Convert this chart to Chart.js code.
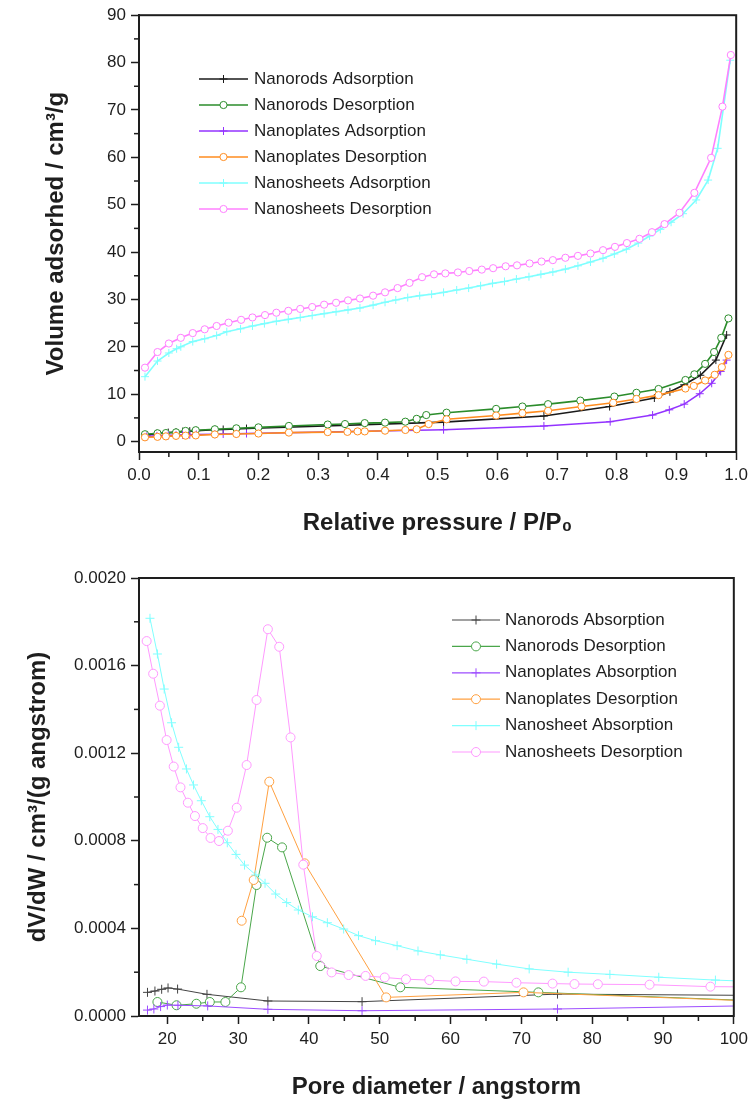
<!DOCTYPE html>
<html>
<head>
<meta charset="utf-8">
<title>Isotherms and pore size</title>
<script src="https://cdn.jsdelivr.net/npm/chart.js@4.4.0/dist/chart.umd.min.js"></script>
<style>
  body { margin: 0; background: #fff; }
  #wrap { position: relative; width: 753px; height: 1106px; }
  canvas { position: absolute; left: 0; }
</style>
</head>
<body>
<div id="wrap">
  <canvas id="isoChart" width="753" height="560" style="top:0"></canvas>
  <canvas id="poreChart" width="753" height="546" style="top:560px"></canvas>
</div>
<script>
/*******************************************
 * DATA - isotherms (top)
 *******************************************/
const rodsAdsP = [0.013, 0.03, 0.049, 0.062, 0.073, 0.085, 0.096, 0.127, 0.141, 0.163, 0.18, 0.51, 0.678, 0.788, 0.863, 0.889, 0.913, 0.94, 0.966, 0.984];
const rodsAdsV = [1.4, 1.7, 1.9, 2.0, 2.1, 2.2, 2.3, 2.5, 2.55, 2.65, 2.75, 4.1, 5.4, 7.4, 9.2, 10.5, 12.0, 14.0, 17.2, 22.5];

const rodsDesP = [0.01, 0.031, 0.045, 0.062, 0.078, 0.095, 0.127, 0.163, 0.2, 0.251, 0.316, 0.345, 0.378, 0.412, 0.446, 0.465, 0.481, 0.515, 0.598, 0.642, 0.685, 0.739, 0.796, 0.833, 0.87, 0.915, 0.93, 0.948, 0.963, 0.975, 0.987];
const rodsDesV = [1.55, 1.75, 1.8, 1.95, 2.25, 2.4, 2.6, 2.8, 3.0, 3.3, 3.6, 3.7, 3.9, 4.0, 4.2, 4.8, 5.6, 6.1, 6.9, 7.4, 7.9, 8.65, 9.5, 10.3, 11.1, 13.0, 14.2, 16.4, 18.9, 21.9, 26.0];

const platesAdsP = [0.013, 0.03, 0.049, 0.062, 0.073, 0.085, 0.096, 0.127, 0.141, 0.163, 0.18, 0.51, 0.678, 0.789, 0.86, 0.888, 0.913, 0.939, 0.959, 0.974, 0.984];
const platesAdsV = [1.1, 1.2, 1.3, 1.35, 1.4, 1.45, 1.5, 1.55, 1.6, 1.65, 1.7, 2.5, 3.3, 4.2, 5.6, 6.7, 7.9, 10.1, 12.3, 14.8, 17.2];

const platesDesP = [0.01, 0.031, 0.045, 0.062, 0.078, 0.095, 0.127, 0.163, 0.2, 0.251, 0.316, 0.349, 0.366, 0.378, 0.412, 0.446, 0.465, 0.485, 0.515, 0.598, 0.642, 0.685, 0.741, 0.794, 0.833, 0.87, 0.915, 0.929, 0.948, 0.964, 0.976, 0.987];
const platesDesV = [0.9, 1.0, 1.1, 1.2, 1.25, 1.3, 1.5, 1.6, 1.7, 1.9, 2.0, 2.05, 2.15, 2.15, 2.3, 2.45, 2.6, 3.7, 4.7, 5.5, 6.0, 6.5, 7.4, 8.2, 9.0, 9.8, 11.2, 11.75, 12.9, 14.1, 15.7, 18.3];

const sheetsAdsP = [0.01, 0.031, 0.05, 0.063, 0.07, 0.09, 0.11, 0.13, 0.147, 0.17, 0.19, 0.21, 0.23, 0.25, 0.27, 0.29, 0.31, 0.33, 0.35, 0.37, 0.392, 0.412, 0.43, 0.45, 0.47, 0.49, 0.51, 0.532, 0.552, 0.572, 0.592, 0.612, 0.632, 0.653, 0.673, 0.693, 0.714, 0.735, 0.756, 0.777, 0.796, 0.816, 0.836, 0.855, 0.873, 0.891, 0.911, 0.933, 0.953, 0.969, 0.99];
const sheetsAdsV = [13.7, 17.0, 18.7, 19.6, 20.0, 21.1, 21.7, 22.4, 23.2, 23.8, 24.4, 24.9, 25.4, 25.8, 26.2, 26.6, 27.0, 27.4, 27.8, 28.2, 28.8, 29.4, 29.9, 30.4, 30.8, 31.1, 31.5, 32.0, 32.4, 32.9, 33.4, 33.8, 34.3, 34.8, 35.3, 35.8, 36.4, 37.1, 37.9, 38.7, 39.6, 40.6, 41.9, 43.4, 44.8, 46.3, 48.1, 51.0, 55.2, 61.9, 80.5];

const sheetsDesP = [0.01, 0.031, 0.05, 0.07, 0.09, 0.11, 0.13, 0.15, 0.171, 0.19, 0.211, 0.23, 0.25, 0.27, 0.29, 0.31, 0.33, 0.35, 0.37, 0.392, 0.412, 0.433, 0.453, 0.474, 0.494, 0.513, 0.534, 0.553, 0.574, 0.593, 0.614, 0.633, 0.654, 0.674, 0.693, 0.714, 0.735, 0.756, 0.777, 0.797, 0.817, 0.838, 0.859, 0.88, 0.905, 0.93, 0.958, 0.977, 0.991];
const sheetsDesV = [15.6, 18.9, 20.7, 21.9, 22.9, 23.7, 24.4, 25.1, 25.7, 26.2, 26.7, 27.2, 27.6, 28.0, 28.4, 28.9, 29.3, 29.8, 30.2, 30.8, 31.5, 32.4, 33.5, 34.7, 35.3, 35.5, 35.7, 36.0, 36.3, 36.6, 37.0, 37.2, 37.6, 38.0, 38.3, 38.8, 39.2, 39.7, 40.4, 41.1, 41.9, 42.8, 44.2, 45.9, 48.3, 52.5, 59.9, 70.7, 81.6];

const isoLabels = ["Nanorods Adsorption", "Nanorods Desorption", "Nanoplates Adsorption", "Nanoplates Desorption", "Nanosheets Adsorption", "Nanosheets Desorption"];
const isoXTicks = [0, 0.1, 0.2, 0.3, 0.4, 0.5, 0.6, 0.7, 0.8, 0.9, 1.0];
const isoYTicks = [0, 10, 20, 30, 40, 50, 60, 70, 80, 90];

/*******************************************
 * DATA - pore size distribution (bottom)
 *******************************************/
const rodsAbsD = [17.2, 18.25, 19.2, 20.1, 21.45, 25.6, 34.2, 47.5, 75.1, 108];
const rodsAbsW = [0.000108, 0.000114, 0.000122, 0.000128, 0.000123, 0.000099, 0.0000685, 0.0000654, 0.0001, 0.000093];

const rodsDesD = [18.6, 21.3, 24.1, 26.0, 28.2, 30.4, 32.6, 34.1, 36.2, 41.6, 52.9, 72.4, 108];
const rodsDesW = [0.000064, 0.000049, 0.000056, 0.000064, 0.000064, 0.000131, 0.000598, 0.000814, 0.00077, 0.000228, 0.000131, 0.000108, 0.000063];

const platesAbsD = [17.2, 18.1, 19.05, 20.0, 21.5, 25.7, 34.2, 47.5, 75.1, 108];
const platesAbsW = [0.000027, 0.000032, 0.000043, 0.00005, 0.000049, 0.000046, 0.0000305, 0.000024, 0.000032, 0.00005];

const platesDesD = [30.5, 32.2, 34.4, 39.4, 50.9, 70.3, 108];
const platesDesW = [0.000435, 0.000621, 0.00107, 0.000697, 0.000085, 0.000108, 0.000062];

const sheetAbsD = [17.55, 18.6, 19.56, 20.6, 21.6, 22.7, 23.7, 24.8, 26.0, 27.15, 28.47, 29.7, 30.9, 32.5, 33.8, 35.3, 36.85, 38.5, 40.5, 42.6, 44.9, 47.0, 49.4, 52.45, 55.4, 58.55, 62.3, 66.5, 71.1, 76.6, 82.5, 89.4, 97.4, 107];
const sheetAbsW = [0.001816, 0.001653, 0.001493, 0.001339, 0.001227, 0.001128, 0.001055, 0.000983, 0.00091, 0.000852, 0.000791, 0.000738, 0.000689, 0.000644, 0.000606, 0.000557, 0.000518, 0.000484, 0.000453, 0.000426, 0.000397, 0.000367, 0.000344, 0.000321, 0.000297, 0.000279, 0.000259, 0.000237, 0.000215, 0.0002, 0.00019, 0.000177, 0.000164, 0.000152];

const sheetsDesD = [17.08, 18.0, 18.95, 19.9, 20.9, 21.86, 22.9, 23.9, 25.0, 26.1, 27.3, 28.55, 29.8, 31.2, 32.6, 34.2, 35.8, 37.4, 39.2, 41.1, 43.2, 45.6, 48.0, 50.7, 53.7, 57.0, 60.7, 64.7, 69.3, 74.4, 77.5, 80.8, 88.1, 96.7, 106];
const sheetsDesW = [0.001712, 0.001563, 0.001417, 0.00126, 0.001139, 0.001044, 0.000974, 0.000913, 0.000858, 0.000813, 0.000799, 0.000846, 0.000951, 0.001146, 0.001443, 0.001766, 0.001686, 0.001272, 0.000691, 0.000274, 0.000199, 0.000187, 0.000183, 0.000176, 0.000168, 0.000164, 0.000158, 0.000157, 0.000152, 0.000148, 0.000146, 0.000145, 0.000143, 0.000134, 0.000132];

const poreLabels = ["Nanorods Absorption", "Nanorods Desorption", "Nanoplates Absorption", "Nanoplates Desorption", "Nanosheet Absorption", "Nanosheets Desorption"];
const poreXTicks = [20, 30, 40, 50, 60, 70, 80, 90, 100];
const poreYTicks = [0, 0.0004, 0.0008, 0.0012, 0.0016, 0.002];

/*******************************************
 * HELPERS
 *******************************************/
const FONT = "'Liberation Sans', Arial, sans-serif";
const INK = "#1e1e1e";

function series(label, xs, ys, color, style, width, radius, idx) {
  return {
    label: label,
    data: xs.map((x, i) => ({ x: x, y: ys[i] })),
    showLine: true,
    borderColor: color,
    backgroundColor: color,
    borderWidth: width,
    pointStyle: style,
    pointRadius: radius,
    pointHoverRadius: radius,
    pointBorderColor: color,
    pointBackgroundColor: "#fff",
    pointBorderWidth: 1,
    tension: 0,
    order: 5 - idx, // later series drawn on top, like the original
  };
}

function drawMarker(ctx, ds, x, y) {
  const r = ds.pointRadius;
  ctx.strokeStyle = ds.pointBorderColor;
  ctx.lineWidth = 1;
  ctx.beginPath();
  if (ds.pointStyle === "circle") {
    ctx.fillStyle = "#fff";
    ctx.arc(x, y, r, 0, Math.PI * 2);
    ctx.fill();
  } else {
    ctx.moveTo(x - r, y); ctx.lineTo(x + r, y);
    ctx.moveTo(x, y - r); ctx.lineTo(x, y + r);
  }
  ctx.stroke();
}

// frame around the plot + short minor ticks
const framePlugin = {
  id: "frame",
  afterDraw(chart, args, opts) {
    const { ctx, chartArea: a, scales } = chart;
    ctx.save();
    ctx.strokeStyle = INK;
    ctx.lineWidth = 2;
    ctx.strokeRect(a.left, a.top, a.right - a.left, a.bottom - a.top);
    ctx.lineWidth = 1.5;
    opts.xMinor.forEach((v) => {
      const px = scales.x.getPixelForValue(v);
      ctx.beginPath(); ctx.moveTo(px, a.bottom); ctx.lineTo(px, a.bottom + 5); ctx.stroke();
    });
    opts.yMinor.forEach((v) => {
      const py = scales.y.getPixelForValue(v);
      ctx.beginPath(); ctx.moveTo(a.left, py); ctx.lineTo(a.left - 5, py); ctx.stroke();
    });
    ctx.restore();
  },
};

// legend drawn inside the plot area
const legendPlugin = {
  id: "insideLegend",
  afterDraw(chart, args, opts) {
    const ctx = chart.ctx;
    ctx.save();
    ctx.font = "17px " + FONT;
    ctx.textBaseline = "middle";
    chart.data.datasets.forEach((ds, i) => {
      const y = opts.y + i * opts.rowH;
      ctx.strokeStyle = ds.borderColor;
      ctx.lineWidth = opts.lineWidth;
      ctx.beginPath(); ctx.moveTo(opts.x, y); ctx.lineTo(opts.x + opts.len, y); ctx.stroke();
      drawMarker(ctx, ds, opts.x + opts.len / 2, y);
      ctx.fillStyle = INK;
      ctx.fillText(ds.label, opts.textX, y);
    });
    ctx.restore();
  },
};

function axisOpts(min, max, tickVals, fmt, title, titlePad, isY, fitSize) {
  return {
    type: "linear",
    min: min,
    max: max,
    // use the exact tick list instead of the generated one
    afterBuildTicks: (s) => {
      s.ticks = tickVals.map((v) => ({ value: v }));
    },
    afterFit: (s) => {
      if (isY) s.width = fitSize; else s.height = fitSize;
    },
    ticks: {
      autoSkip: false,
      maxRotation: 0,
      padding: 5,
      color: INK,
      font: { family: FONT, size: 17 },
      callback: fmt,
    },
    grid: { drawOnChartArea: false, drawTicks: true, tickLength: 8, tickColor: INK, tickWidth: 1.5 },
    border: { display: true, color: INK, width: 2 },
    title: {
      display: true,
      text: title,
      color: INK,
      font: { family: FONT, size: 24, weight: "bold" },
      padding: titlePad,
    },
  };
}

/*******************************************
 * TOP CHART - isotherms
 *******************************************/
const isoColors = ["#1a1a1a", "#2b8c2b", "#9333ff", "#ff8c1f", "#7fffff", "#ff80ff"];
const isoStyles = ["cross", "circle", "cross", "circle", "cross", "circle"];
const isoX = [rodsAdsP, rodsDesP, platesAdsP, platesDesP, sheetsAdsP, sheetsDesP];
const isoY = [rodsAdsV, rodsDesV, platesAdsV, platesDesV, sheetsAdsV, sheetsDesV];

new Chart(document.getElementById("isoChart"), {
  type: "scatter",
  data: {
    datasets: isoLabels.map((lab, i) =>
      series(lab, isoX[i], isoY[i], isoColors[i], isoStyles[i], 1.6, isoStyles[i] === "circle" ? 3.6 : 4, i)
    ),
  },
  options: {
    responsive: false,
    animation: false,
    layout: { padding: { top: 15, right: 16.5, left: 0, bottom: 0 } },
    scales: {
      x: axisOpts(0, 1, isoXTicks, (v) => v.toFixed(1), "Relative pressure / P/P\u2080", { bottom: 22 }, false, 108),
      y: axisOpts(-2.2, 90, isoYTicks, (v) => v.toFixed(0), "Volume adsorhed / cm\u00b3/g", { top: 42 }, true, 139),
    },
    plugins: {
      legend: { display: false },
      tooltip: { enabled: false },
      frame: { xMinor: [0.05, 0.15, 0.25, 0.35, 0.45, 0.55, 0.65, 0.75, 0.85, 0.95], yMinor: [5, 15, 25, 35, 45, 55, 65, 75, 85] },
      insideLegend: { x: 199, len: 49, textX: 254, y: 79, rowH: 26, lineWidth: 1.6 },
    },
  },
  plugins: [framePlugin, legendPlugin],
});

/*******************************************
 * BOTTOM CHART - pore size distribution
 *******************************************/
const poreColors = ["#444444", "#4aa64a", "#9d4dff", "#ffa040", "#80ffff", "#ff99ff"];
const poreX = [rodsAbsD, rodsDesD, platesAbsD, platesDesD, sheetAbsD, sheetsDesD];
const poreY = [rodsAbsW, rodsDesW, platesAbsW, platesDesW, sheetAbsW, sheetsDesW];

new Chart(document.getElementById("poreChart"), {
  type: "scatter",
  data: {
    datasets: poreLabels.map((lab, i) =>
      series(lab, poreX[i], poreY[i], poreColors[i], isoStyles[i], 1, 4.5, i)
    ),
  },
  options: {
    responsive: false,
    animation: false,
    layout: { padding: { top: 18, right: 16.5, left: 0, bottom: 0 } },
    scales: {
      x: axisOpts(16, 100, poreXTicks, (v) => v.toFixed(0), "Pore diameter / angstorm", { bottom: 4 }, false, 90),
      y: axisOpts(0, 0.002, poreYTicks, (v) => v.toFixed(4), "dV/dW / cm\u00b3/(g angstrom)", { top: 24 }, true, 139),
    },
    plugins: {
      legend: { display: false },
      tooltip: { enabled: false },
      frame: { xMinor: [25, 35, 45, 55, 65, 75, 85, 95], yMinor: [0.0002, 0.0006, 0.001, 0.0014, 0.0018] },
      insideLegend: { x: 452, len: 48, textX: 505, y: 60, rowH: 26.4, lineWidth: 1.2 },
    },
  },
  plugins: [framePlugin, legendPlugin],
});
</script>
</body>
</html>
